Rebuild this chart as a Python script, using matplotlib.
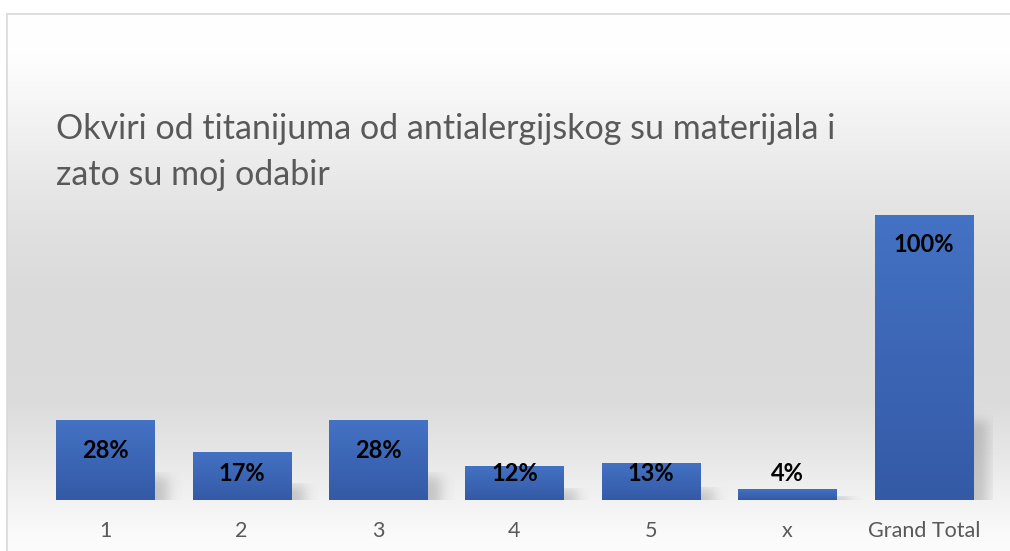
import numpy as np
import matplotlib
matplotlib.use("Agg")
import matplotlib.pyplot as plt

# data
categories = ["1", "2", "3", "4", "5", "x", "Grand Total"]
shares = [0.28, 0.17, 0.28, 0.12, 0.13, 0.04, 1.00]
labels = ["28%", "17%", "28%", "12%", "13%", "4%", "100%"]
title_lines = ["Okviri od titanijuma od antialergijskog su materijala i",
               "zato su moj odabir"]

W, H = 1010, 551
FONT = "Lato"
plt.rcParams["font.family"] = [FONT, "DejaVu Sans"]

fig = plt.figure(figsize=(W / 100, H / 100), dpi=100)

# background: vertical grey gradient inside the chart frame
bg = fig.add_axes([0, 0, 1, 1])
bg.set_xlim(0, W)
bg.set_ylim(H, 0)
bg.axis("off")
yy = np.arange(14, H + 1)
grey = np.interp(yy, [14, 60, 150, 230, 300, 400, 460, 500, 540],
                 [1.0, 0.995, 0.93, 0.88, 0.855, 0.86, 0.91, 0.95, 0.985])
grad = np.repeat(grey[:, None], 2, axis=1)
bg.imshow(np.dstack([grad, grad, grad]), extent=(7, W, H, 14),
          aspect="auto", interpolation="bilinear", zorder=0)
bg.plot([7, 7], [14, H], color="#d9d9d9", lw=1.2, zorder=1)
bg.plot([7, W], [14, 14], color="#d9d9d9", lw=1.2, zorder=1)

for i, line in enumerate(title_lines):
    fig.text(56 / W, 1 - (139 + 46 * i) / H, line, ha="left", va="baseline",
             fontsize=24.5, color="#595959")

# plotting area
ax = fig.add_axes([37 / W, 51 / H, 955 / W, 285 / H])
ax.set_xlim(-0.5, len(categories) - 0.5)
ax.set_ylim(0, 1)
ax.patch.set_visible(False)
for s in ax.spines.values():
    s.set_visible(False)
ax.set_yticks([])
x = np.arange(len(categories))
ax.set_xticks(x)
ax.set_xticklabels(categories, fontsize=15.5, color="#595959")
ax.tick_params(axis="x", length=0, pad=15)

bw = 0.72
bars = ax.bar(x, shares, width=bw, color="#4472c4", zorder=3)

# soft shadow at the lower right of each bar
nx, ny = 80, 60
for xi, v in zip(x, shares):
    x0, x1 = xi, xi + bw / 2 + 0.2
    y0, y1 = 0.0, v * 0.34
    gx = np.linspace(x0, x1, nx)
    gy = np.linspace(y0, y1, ny)
    ax_ = 1 / (1 + np.exp(-(xi + bw / 2 + 0.1 - gx) / 0.03))
    ay_ = 1 / (1 + np.exp(-(v * 0.28 - gy) / 0.012))
    alpha = 0.36 * np.outer(ay_, ax_)
    img = np.zeros((ny, nx, 4))
    img[..., :3] = 0.45
    img[..., 3] = alpha
    ax.imshow(img, extent=(x0, x1, y0, y1), origin="lower", aspect="auto",
              interpolation="bilinear", zorder=2)

# vertical gradient fill on bars
top_c = np.array([0x44, 0x72, 0xC4]) / 255
bot_c = np.array([0x34, 0x5A, 0xA6]) / 255
for b in bars:
    bx, bwid, bh = b.get_x(), b.get_width(), b.get_height()
    t = np.linspace(0, 1, 100)[:, None]
    col = bot_c + (top_c - bot_c) * t
    img = np.repeat(col[:, None, :], 2, axis=1)
    im = ax.imshow(img, extent=(bx, bx + bwid, 0, bh), origin="lower",
                   aspect="auto", interpolation="bilinear", zorder=4)
    im.set_clip_path(b)

# data labels: inside end, kept clear of the axis for short bars
for xi, v, lab in zip(x, shares, labels):
    ax.text(xi, max(v - 0.105, 0.092), lab, ha="center", va="center",
            fontsize=17, fontweight="bold", color="black", zorder=5)

ax.set_xlim(-0.5, len(categories) - 0.5)
ax.set_ylim(0, 1)

fig.savefig("out.png", dpi=100)
